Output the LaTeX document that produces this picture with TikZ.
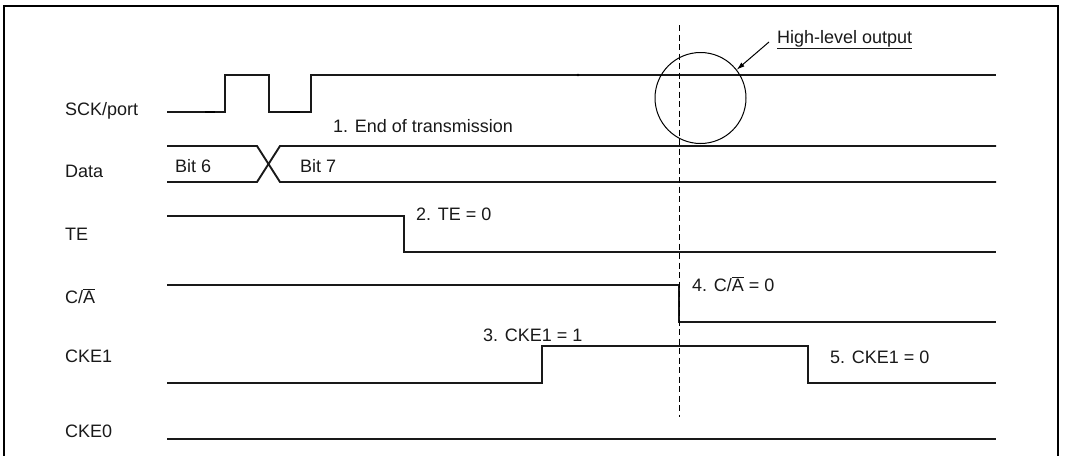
\documentclass[tikz,border=0pt]{standalone}
\usepackage{fontspec}
\setmainfont{Liberation Sans}
\usetikzlibrary{arrows.meta}
\begin{document}
\begin{tikzpicture}[x=1pt,y=-1pt,
  sig/.style={line width=1.9pt,line join=miter,draw=black!90},
  frame/.style={line width=2.2pt},
  lbl/.style={anchor=base west,inner sep=0pt,font=\fontsize{18}{21}\selectfont,text=black!90}]
\useasboundingbox (0,0) rectangle (1078,455);
\draw[frame] (4,460) -- (4,6) -- (1058,6) -- (1058,460);
% signal names
\node[lbl] (nsck) at (65,115) {SCK/port};
\node[lbl] (ndata) at (65,177) {Data};
\node[lbl] (nte) at (65,240) {TE};
\node[lbl] (nca) at (65,303) {C/\ensuremath{\overline{\mbox{A}}}};
\node[lbl] (ncke1) at (65,362) {CKE1};
\node[lbl] (ncke0) at (65,437) {CKE0};
% SCK
\draw[sig] (167,112) -- (225,112) -- (225,75) -- (269,75) -- (269,112) -- (311,112) -- (311,75) -- (996,75);
\draw[line width=2.6pt] (205,112) -- (215,112);
\draw[line width=2.6pt] (290,112) -- (300,112);
\fill (578,75) circle (1.4pt);
\node[lbl] (t1) at (333,132) {1. End of transmission};
% Data
\draw[sig] (167,146) -- (257,146) -- (280,182) -- (996,182);
\draw[sig] (167,182) -- (257,182) -- (280,146) -- (996,146);
\node[lbl] (b6) at (175,172) {Bit 6};
\node[lbl] (b7) at (300,172) {Bit 7};
% TE
\draw[sig] (167,216) -- (404,216) -- (404,252) -- (996,252);
\node[lbl] (t2) at (416,220) {2. TE = 0};
% C/A
\draw[sig] (167,285) -- (679,285) -- (679,322) -- (996,322);
\node[lbl] (t4) at (692,291) {4. C/\ensuremath{\overline{\mbox{A}}} = 0};
% CKE1
\draw[sig] (167,383) -- (542,383) -- (542,346) -- (808,346) -- (808,383) -- (996,383);
\node[lbl] (t3) at (483,341) {3. CKE1 = 1};
\node[lbl] (t5) at (830,363) {5. CKE1 = 0};
% CKE0
\draw[sig] (167,439) -- (996,439);
% dashed marker
\coordinate (dtop) at (679,25);
\coordinate (dbot) at (679,417);
\draw[line width=0.9pt,dash pattern=on 6pt off 3.5pt] (dtop) -- (dbot);
% circle and callout
\node[circle,draw,line width=1pt,minimum size=91pt,inner sep=0pt] (circ) at (700.5,98) {};
\node[lbl] (hl) at (777,43) {\underline{High-level output}};
\coordinate (arrstart) at (769,42);
\draw[line width=1pt,-{Latex[length=8pt,width=5pt]}] (arrstart) -- (circ.38);
\end{tikzpicture}
\end{document}
